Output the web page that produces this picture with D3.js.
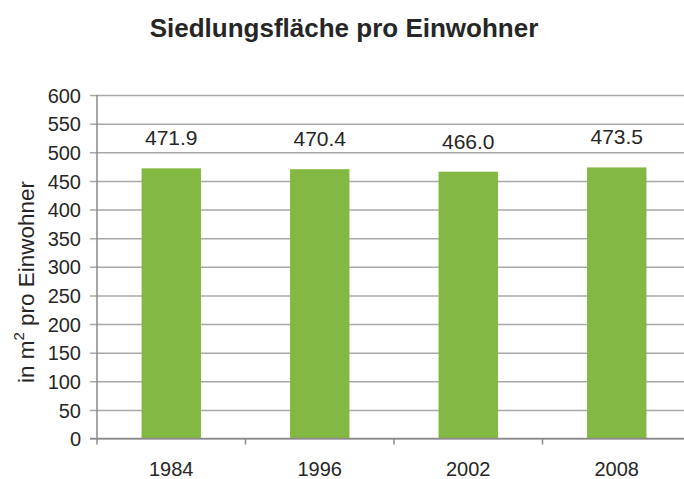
<!DOCTYPE html>
<html>
<head>
<meta charset="utf-8">
<script src="https://cdn.jsdelivr.net/npm/d3@7"></script>
<style>
  html, body { margin: 0; padding: 0; background: #fff; }
  svg { display: block; font-family: "Liberation Sans", Arial, sans-serif; }
</style>
</head>
<body>
<svg id="chart" width="684" height="479"></svg>
<script>
// Siedlungsfläche je Einwohner (m²)
const years = ["1984", "1996", "2002", "2008"];
const values = [471.9, 470.4, 466.0, 473.5];
const yTicks = [0, 50, 100, 150, 200, 250, 300, 350, 400, 450, 500, 550, 600];

const svg = d3.select("#chart");
const W = 684, H = 479;
const plotLeft = 97, plotRight = 691, plotTop = 95, plotBottom = 438.5;

const y = d3.scaleLinear().domain([0, 600]).range([plotBottom, plotTop]);
const xCat = d3.scaleBand().domain(years).range([plotLeft, plotRight]).padding(0);
const xBar = d3.scaleBand().domain(years).range([plotLeft, plotRight])
  .paddingInner(0.6).paddingOuter(0.3);

const gridColor = "#a8a8a8";
const axisColor = "#8a8a8a";
const textColor = "#262626";

// title
svg.append("text")
  .attr("x", 344).attr("y", 37)
  .attr("text-anchor", "middle")
  .attr("font-size", 26).attr("font-weight", "bold")
  .attr("fill", textColor)
  .text("Siedlungsfläche pro Einwohner");

// horizontal gridlines with tick stubs
const yAxis = d3.axisLeft(y).tickValues(yTicks).tickSize(-(W - plotLeft)).tickSizeOuter(0).tickPadding(0);
const gy = svg.append("g").attr("transform", `translate(${plotLeft},0)`).call(yAxis);
gy.select(".domain").remove();
gy.selectAll(".tick line")
  .attr("x1", -7)
  .attr("stroke", gridColor).attr("stroke-width", 1.5);
gy.selectAll(".tick text")
  .attr("x", -16).attr("dy", "0.36em")
  .attr("font-size", 20).attr("fill", textColor)
  .attr("font-family", "Liberation Sans, Arial, sans-serif");

// bars
svg.append("g").selectAll("rect")
  .data(years)
  .join("rect")
  .attr("x", d => xBar(d))
  .attr("width", xBar.bandwidth())
  .attr("y", (d, i) => y(values[i]))
  .attr("height", (d, i) => y(0) - y(values[i]))
  .attr("fill", "#83b942");

// value labels
svg.append("g").selectAll("text")
  .data(years)
  .join("text")
  .attr("x", d => xBar(d) + xBar.bandwidth() / 2)
  .attr("y", (d, i) => y(values[i]) - 23)
  .attr("text-anchor", "middle")
  .attr("font-size", 21)
  .attr("fill", textColor)
  .text((d, i) => values[i].toFixed(1));

// vertical axis line
svg.append("line")
  .attr("x1", plotLeft).attr("x2", plotLeft)
  .attr("y1", plotTop).attr("y2", plotBottom)
  .attr("stroke", axisColor).attr("stroke-width", 1.5);

// category axis
svg.append("line")
  .attr("x1", plotLeft - 7).attr("x2", W)
  .attr("y1", plotBottom).attr("y2", plotBottom)
  .attr("stroke", axisColor).attr("stroke-width", 1.5);

const boundaries = years.map(d => xCat(d)).concat([plotRight]);
svg.append("g").selectAll("line")
  .data(boundaries)
  .join("line")
  .attr("x1", d => d).attr("x2", d => d)
  .attr("y1", plotBottom).attr("y2", plotBottom + 6)
  .attr("stroke", axisColor).attr("stroke-width", 1.5);

svg.append("g").selectAll("text")
  .data(years)
  .join("text")
  .attr("x", d => xCat(d) + xCat.bandwidth() / 2)
  .attr("y", 476)
  .attr("text-anchor", "middle")
  .attr("font-size", 20)
  .attr("fill", textColor)
  .text(d => d);

// y axis title
const yt = svg.append("text")
  .attr("transform", "translate(34,282) rotate(-90)")
  .attr("text-anchor", "middle")
  .attr("font-size", 22.5)
  .attr("fill", textColor);
yt.append("tspan").text("in m");
yt.append("tspan").attr("font-size", 15).attr("dy", -10).text("2");
yt.append("tspan").attr("dy", 10).text(" pro Einwohner");
</script>
</body>
</html>
